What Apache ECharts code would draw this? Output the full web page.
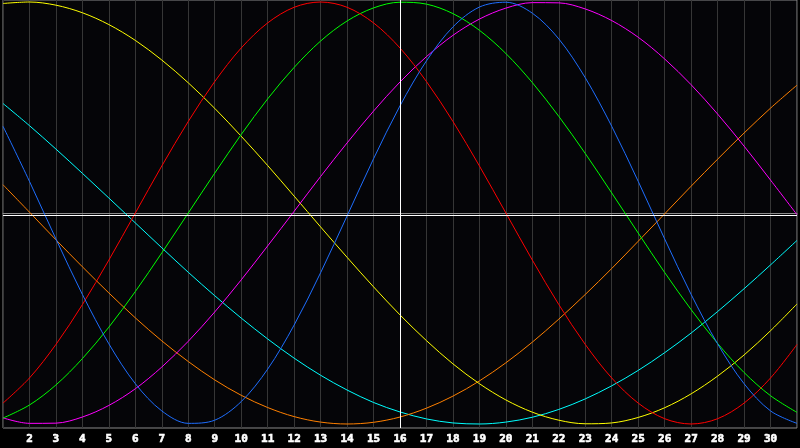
<!DOCTYPE html>
<html>
<head>
<meta charset="utf-8">
<script src="https://cdn.jsdelivr.net/npm/echarts@6/dist/echarts.min.js"></script>
<style>
html,body{margin:0;padding:0;background:#000;}
#c{width:800px;height:448px;}
</style>
</head>
<body>
<div id="c"></div>
<script>
var days = ['1','2','3','4','5','6','7','8','9','10','11','12','13','14','15','16','17','18','19','20','21','22','23','24','25','26','27','28','29','30','31'];
var physical = [0.411,0.150,-0.123,-0.386,-0.620,-0.809,-0.938,-0.997,-0.982,-0.894,-0.740,-0.531,-0.283,-0.014,0.257,0.508,0.721,0.882,0.976,0.999,0.947,0.825,0.641,0.411,0.150,-0.123,-0.386,-0.620,-0.809,-0.938,-0.997];
var emotional = [-0.901,-0.782,-0.623,-0.434,-0.223,0,0.223,0.434,0.623,0.782,0.901,0.975,1,0.975,0.901,0.782,0.623,0.434,0.223,0,-0.223,-0.434,-0.623,-0.782,-0.901,-0.975,-1,-0.975,-0.901,-0.782,-0.623];
var intellectual = [-0.972,-0.910,-0.815,-0.690,-0.541,-0.372,-0.189,0,0.189,0.372,0.541,0.690,0.815,0.910,0.972,0.999,0.990,0.945,0.866,0.756,0.618,0.458,0.282,0.095,-0.095,-0.282,-0.458,-0.618,-0.756,-0.866,-0.945];
var intuitive = [-0.971,-0.997,-0.996,-0.967,-0.912,-0.833,-0.730,-0.608,-0.469,-0.317,-0.156,0.008,0.173,0.332,0.483,0.621,0.741,0.842,0.919,0.971,0.997,0.996,0.967,0.912,0.833,0.730,0.608,0.469,0.317,0.156,-0.008];
var aesthetic = [0.993,1.000,0.985,0.949,0.893,0.818,0.725,0.617,0.496,0.364,0.225,0.080,-0.066,-0.210,-0.350,-0.483,-0.605,-0.715,-0.809,-0.886,-0.944,-0.982,-0.999,-0.995,-0.969,-0.923,-0.857,-0.773,-0.673,-0.558,-0.431];
var awareness = [0.134,0.004,-0.127,-0.255,-0.379,-0.497,-0.606,-0.704,-0.791,-0.864,-0.922,-0.965,-0.991,-1.000,-0.992,-0.967,-0.925,-0.868,-0.796,-0.710,-0.612,-0.503,-0.386,-0.263,-0.134,-0.004,0.127,0.255,0.379,0.497,0.606];
var spiritual = [0.519,0.414,0.303,0.188,0.071,-0.047,-0.165,-0.281,-0.392,-0.498,-0.597,-0.688,-0.769,-0.839,-0.898,-0.943,-0.976,-0.995,-1.000,-0.991,-0.968,-0.931,-0.881,-0.819,-0.746,-0.662,-0.569,-0.467,-0.359,-0.246,-0.130];
var todayLabel = '16';
var baseline = -0.0071;

var chart = echarts.init(document.getElementById('c'), null, {renderer:'canvas'});
function line(name, data, color, extra) {
  var s = {
    name: name, type: 'line', data: data, smooth: 0.33, symbol: 'none',
    lineStyle: {color: color, width: 1}, itemStyle: {color: color},
    emphasis: {disabled: true}, silent: true
  };
  if (extra) for (var k in extra) s[k] = extra[k];
  return s;
}
chart.setOption({
  animation: false,
  backgroundColor: '#000000',
  grid: {left: 0, right: 1, top: 0, bottom: 20, show: true, backgroundColor: '#050508', borderColor: '#8a8a8a', borderWidth: 1},
  xAxis: {
    type: 'category', data: days, boundaryGap: false,
    axisLine: {show: true, lineStyle: {color: '#8a8a8a'}},
    axisTick: {show: false},
    axisLabel: {
      interval: 0, color: '#ffffff', fontFamily: 'DejaVu Sans Mono', fontWeight: 'bold', fontSize: 11, margin: 6,
      textBorderColor: '#ffffff', textBorderWidth: 0.6,
      formatter: function (v) { return (v === '1' || v === '31') ? '' : v; }
    },
    splitLine: {show: true, interval: 0, lineStyle: {color: '#363636', width: 1}}
  },
  yAxis: {
    type: 'value', min: -1.019, max: 1.0095,
    axisLine: {show: false}, axisTick: {show: false}, axisLabel: {show: false}, splitLine: {show: false}
  },
  series: [
    line('Spiritual', spiritual, '#00ffff'),
    line('Awareness', awareness, '#ff8000'),
    line('Aesthetic', aesthetic, '#ffff00'),
    line('Intuitive', intuitive, '#ff00ff'),
    line('Intellectual', intellectual, '#00ff00'),
    line('Emotional', emotional, '#ff0000'),
    line('Physical', physical, '#1e6eff', {
      markLine: {
        silent: true, symbol: 'none', label: {show: false},
        lineStyle: {color: '#ffffff', width: 1, type: 'solid', opacity: 1},
        data: [{xAxis: todayLabel}, {yAxis: baseline}]
      }
    })
  ]
});
</script>
</body>
</html>
